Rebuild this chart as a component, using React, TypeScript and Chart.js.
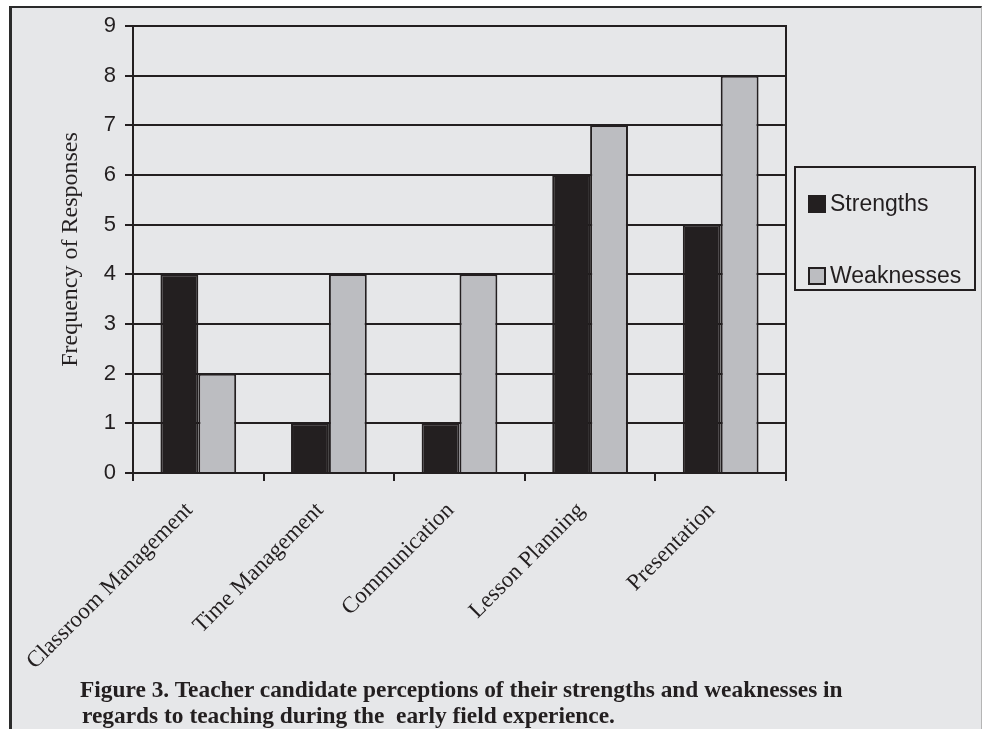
import React, { useEffect, useRef } from "react";
import { Chart, registerables } from "chart.js";

Chart.register(...registerables);

const categories = ["Classroom Management", "Time Management", "Communication", "Lesson Planning", "Presentation"];
const strengths = [4, 1, 1, 6, 5];
const weaknesses = [2, 4, 4, 7, 8];
const seriesNames = ["Strengths", "Weaknesses"];
const yMin = 0;
const yMax = 9;
const yStep = 1;
const yTitle = "Frequency of Responses";
const captionLines = [
  "Figure 3. Teacher candidate perceptions of their strengths and weaknesses in",
  "regards to teaching during the  early field experience.",
];

const INK = "#231f20";
const GRAY = "#bcbdc1";
const BG = "#e6e7e9";
const SANS = "'Liberation Sans', Arial, sans-serif";
const SERIF = "'Liberation Serif', 'Times New Roman', serif";

const framePlugin = {
  id: "frameAndLegend",
  afterDraw(chart: any) {
    const { ctx, chartArea } = chart;
    ctx.save();
    ctx.strokeStyle = INK;
    ctx.lineWidth = 2;
    ctx.beginPath();
    ctx.moveTo(chartArea.right, chartArea.top - 1);
    ctx.lineTo(chartArea.right, chartArea.bottom + 8);
    ctx.stroke();

    const bx = chartArea.right + 9;
    const by = 167;
    const bw = 180;
    const bh = 123;
    ctx.strokeRect(bx, by, bw, bh);
    ctx.font = `23px ${SANS}`;
    ctx.textBaseline = "middle";
    ctx.textAlign = "left";
    chart.data.datasets.forEach((ds: any, i: number) => {
      const cy = by + 37 + i * 72;
      ctx.fillStyle = ds.backgroundColor;
      ctx.fillRect(bx + 14, cy - 8, 16, 16);
      ctx.lineWidth = 2;
      ctx.strokeRect(bx + 14, cy - 8, 16, 16);
      ctx.fillStyle = INK;
      ctx.fillText(ds.label, bx + 35, cy + 1);
    });
    ctx.restore();
  },
};

export default function App() {
  const ref = useRef<HTMLCanvasElement | null>(null);

  useEffect(() => {
    document.body.style.margin = "0";
    if (!ref.current) return;
    const chart = new Chart(ref.current, {
      type: "bar",
      data: {
        labels: categories,
        datasets: [
          {
            label: seriesNames[0],
            data: strengths,
            backgroundColor: INK,
            borderColor: INK,
            borderWidth: 2,
            categoryPercentage: 0.58,
            barPercentage: 1,
          },
          {
            label: seriesNames[1],
            data: weaknesses,
            backgroundColor: GRAY,
            borderColor: INK,
            borderWidth: 2,
            categoryPercentage: 0.58,
            barPercentage: 1,
          },
        ],
      },
      options: {
        responsive: false,
        animation: false,
        devicePixelRatio: 1,
        layout: { padding: { top: 26, right: 197, bottom: 0, left: 0 } },
        plugins: {
          legend: { display: false },
          tooltip: { enabled: false },
        },
        scales: {
          x: {
            offset: true,
            grid: {
              offset: true,
              drawOnChartArea: false,
              drawTicks: true,
              tickLength: 8,
              color: INK,
              lineWidth: 2,
            },
            border: { color: INK, width: 2 },
            ticks: {
              autoSkip: false,
              maxRotation: 45,
              minRotation: 45,
              padding: 16,
              labelOffset: -9,
              color: INK,
              font: { family: SERIF, size: 23 },
            },
            afterFit: (scale: any) => {
              scale.height = 256;
            },
          },
          y: {
            min: yMin,
            max: yMax,
            ticks: {
              stepSize: yStep,
              padding: 9,
              color: INK,
              font: { family: SANS, size: 22 },
            },
            grid: { color: INK, lineWidth: 2, tickLength: 8 },
            border: { color: INK, width: 2 },
            title: {
              display: true,
              text: yTitle,
              color: INK,
              font: { family: SERIF, size: 24 },
              padding: { top: 56, bottom: 0 },
            },
            afterFit: (scale: any) => {
              scale.width = 133;
            },
          },
        },
      },
      plugins: [framePlugin],
    });
    return () => chart.destroy();
  }, []);

  return (
    <div style={{ position: "absolute", left: 0, top: 0, width: 983, height: 729, background: "#ffffff", overflow: "hidden" }}>
      <div
        style={{
          position: "absolute",
          left: 9,
          top: 6,
          width: 969,
          height: 723,
          background: BG,
          borderTop: "2px solid #2b2b2b",
          borderLeft: "3px solid #2b2b2b",
          borderRight: "1px solid #b5b5b5",
        }}
      />
      <canvas ref={ref} width={983} height={729} style={{ position: "absolute", left: 0, top: 0 }} />
      {captionLines.map((line, i) => (
        <div
          key={i}
          style={{
            position: "absolute",
            left: 80 + i * 2,
            top: 676 + i * 26,
            font: `bold 23.4px ${SERIF}`,
            lineHeight: "26px",
            color: INK,
            whiteSpace: "pre",
          }}
        >
          {line}
        </div>
      ))}
    </div>
  );
}
